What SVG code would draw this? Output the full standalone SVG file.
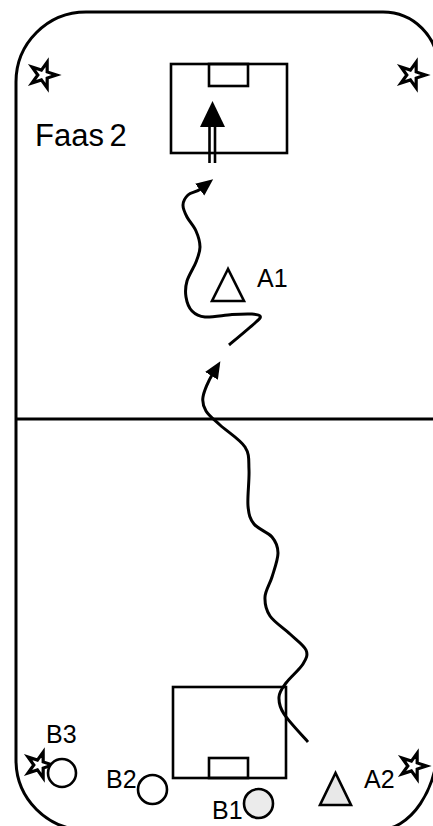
<svg xmlns="http://www.w3.org/2000/svg" width="433" height="826" viewBox="0 0 433 826">
<style>
.ln{fill:none;stroke:#000;stroke-width:3}
.box{fill:none;stroke:#000;stroke-width:2.6}
.pl{stroke:#000;stroke-width:2.6}
.lbl{font-family:"Liberation Sans",Arial,sans-serif;font-size:25px;fill:#000}
.star{fill:#fff;stroke:#000;stroke-width:3.2;stroke-linejoin:miter}
</style>
<defs>
<marker id="ah" markerUnits="userSpaceOnUse" markerWidth="18" markerHeight="16" refX="1" refY="7.5" orient="auto">
<path d="M0,0 L17,7.5 L0,15 z" fill="#000"/>
</marker>
<polygon id="st" class="star" points="4.17,-12.84 4.19,-3.04 13.5,0 4.19,3.04 4.17,12.84 -1.6,4.92 -10.92,7.93 -5.18,0 -10.92,-7.93 -1.6,-4.92"/>
</defs>
<rect width="433" height="826" fill="#fff"/>
<g id="field">
<path class="ln" d="M16,82 A70,70 0 0 1 86,12 L383,12 A55,55 0 0 1 438,67 L438,740 A60,90 0 0 1 378,830 L86,830 A70,70 0 0 1 16,760 Z"/>
<line class="ln" x1="16" y1="419" x2="433" y2="419"/>
</g>
<g id="goal-top">
<rect class="box" x="171" y="64" width="116" height="89"/>
<rect class="box" x="209" y="64" width="39" height="22"/>
</g>
<g id="goal-bottom">
<rect class="box" x="173" y="687" width="113" height="91"/>
<rect class="box" x="209" y="758" width="39" height="20"/>
</g>
<g id="title"><text class="lbl" x="35" y="146" style="font-size:31px" word-spacing="-3">Faas 2</text></g>
<g id="star-tl"><use href="#st" x="43" y="75"/></g>
<g id="star-tr"><use href="#st" x="412" y="75"/></g>
<g id="star-bl"><use href="#st" x="39" y="765"/></g>
<g id="star-br"><use href="#st" x="413" y="766"/></g>
<g id="A1">
<polygon class="pl" fill="#fff" points="228,269 212,301 244,301"/>
<text class="lbl" x="257" y="287">A1</text>
</g>
<g id="A2">
<polygon class="pl" fill="#e8e8e8" points="335.5,773 320,805 351,805"/>
<text class="lbl" x="364" y="788">A2</text>
</g>
<g id="B3">
<circle class="pl" fill="#fff" cx="62" cy="773" r="14"/>
<text class="lbl" x="46" y="743">B3</text>
</g>
<g id="B2">
<circle class="pl" fill="#fff" cx="152.5" cy="789.5" r="14.5"/>
<text class="lbl" x="106" y="788">B2</text>
</g>
<g id="B1">
<circle class="pl" fill="#ebebeb" cx="258.5" cy="803.5" r="14.5"/>
<text class="lbl" x="212" y="819">B1</text>
</g>
<g id="connectors">
<path class="ln" marker-end="url(#ah)" d="M229,345 C233.5,341.2 250.8,326.8 256,322 C261.2,317.2 260.7,317.3 260,316 C259.3,314.7 256.7,314.3 252,314 C247.3,313.8 239.8,314 232,314.5 C224.2,315 211.7,317.6 205,317 C198.3,316.4 195.2,314.3 192,311 C188.8,307.7 186.8,302 186,297 C185.2,292 185.3,286.8 187,281 C188.7,275.2 193.8,267.7 196,262 C198.2,256.3 200,252.2 200,247 C200,241.8 198.2,236 196,231 C193.8,226 189.2,221.3 187,217 C184.8,212.7 182.8,208.7 183,205 C183.2,201.3 185.1,197.7 188,195 C190.9,192.3 196.5,192.1 200.5,189"/>
<path class="ln" marker-end="url(#ah)" d="M308,742 C304,737.3 288.8,721.5 284,714 C279.2,706.5 278.7,702.2 279,697 C279.3,691.8 282,688.5 286,683 C290,677.5 299.7,669.5 303,664 C306.3,658.5 308.2,655 306,650 C303.8,645 296,639.7 290,634 C284,628.3 274.2,622.2 270,616 C265.8,609.8 264.7,603.5 265,597 C265.3,590.5 269.8,584.3 272,577 C274.2,569.7 278,559.7 278,553 C278,546.3 276,541.8 272,537 C268,532.2 258,529.2 254,524 C250,518.8 248.8,515 248,506 C247.2,497 249.5,479.8 249,470 C248.5,460.2 249.8,454.5 245,447 C240.2,439.5 226.5,431 220,425 C213.5,419 208.8,415.7 206,411 C203.2,406.3 202,403 203,397 C204,391 208.8,380.2 212,375"/>
<g id="shot">
<line class="pl" x1="209.5" y1="124" x2="209.5" y2="163"/>
<line class="pl" x1="215" y1="124" x2="215" y2="163"/>
<polygon points="212.5,101 200,127 225,127" fill="#000"/>
</g>
</g>
</svg>
